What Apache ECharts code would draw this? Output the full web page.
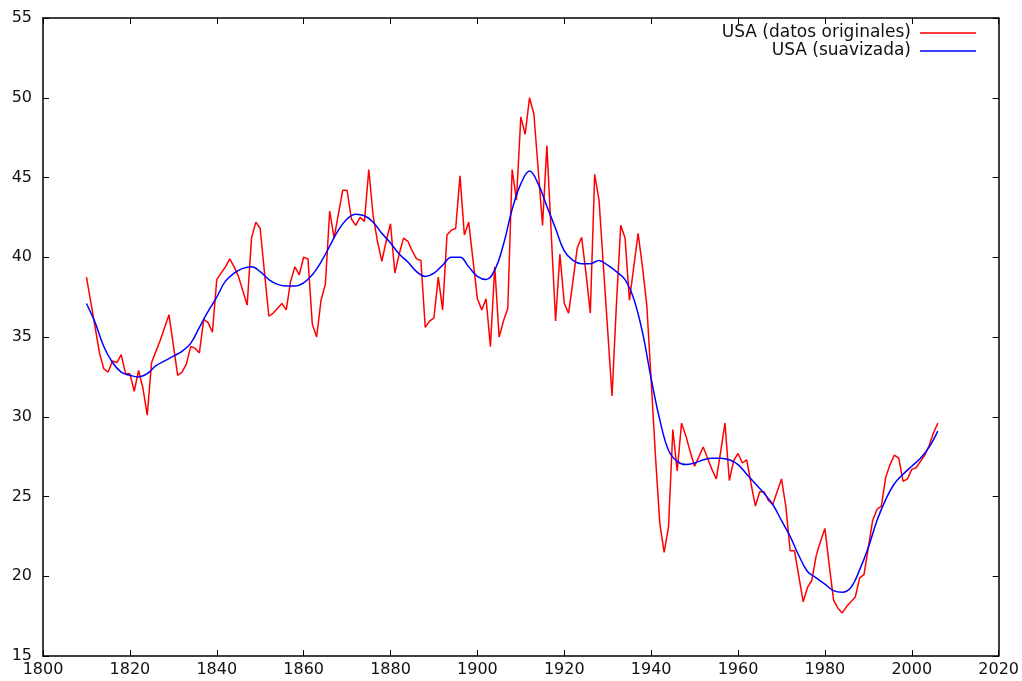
<!DOCTYPE html>
<html>
<head>
<meta charset="utf-8">
<script src="https://cdn.jsdelivr.net/npm/echarts@6/dist/echarts.min.js"></script>
<style>
  html, body { margin: 0; padding: 0; background: #fff; }
  #main { width: 1022px; height: 681px; }
</style>
</head>
<body>
<div id="main"></div>
<script>
// años de la serie original (uno por año)
var firstYear = 1810;
var rawValues = [
  38.75, 37.2, 35.6, 34.0, 33.0, 32.8, 33.5, 33.4, 33.9, 32.7,
  32.7, 31.6, 32.9, 31.8, 30.1, 33.4, 34.1, 34.8, 35.6, 36.4,
  34.5, 32.6, 32.8, 33.3, 34.4, 34.3, 34.0, 36.1, 35.9, 35.3,
  38.6, 39.0, 39.4, 39.9, 39.4, 38.8, 37.9, 37.0, 41.2, 42.2,
  41.8, 39.0, 36.3, 36.5, 36.8, 37.1, 36.7, 38.5, 39.4, 38.9,
  40.0, 39.9, 35.8, 35.0, 37.3, 38.3, 42.9, 41.2, 42.7, 44.2,
  44.2, 42.4, 42.0, 42.5, 42.25, 45.5, 42.6, 41.0, 39.75, 41.0,
  42.1, 39.0, 40.2, 41.2, 41.0, 40.4, 39.9, 39.8, 35.6, 36.0,
  36.2, 38.75, 36.7, 41.4, 41.7, 41.8, 45.1, 41.4, 42.2, 39.8,
  37.4, 36.7, 37.4, 34.4, 39.4, 35.0, 36.0, 36.8, 45.5, 43.6,
  48.8, 47.7, 50.0, 49.0, 45.5, 42.0, 47.0, 41.5, 36.0, 40.2,
  37.1, 36.5, 38.5, 40.6, 41.25, 39.0, 36.5, 45.2, 43.6, 39.5,
  35.4, 31.3, 37.0, 42.0, 41.2, 37.3, 39.4, 41.5, 39.4, 37.0,
  32.3, 27.5, 23.3, 21.5, 23.1, 29.2, 26.6, 29.6, 28.8, 27.8,
  26.9, 27.5, 28.1, 27.4, 26.7, 26.1, 27.8, 29.6, 26.0, 27.25,
  27.7, 27.1, 27.3, 25.8, 24.4, 25.3, 25.3, 24.75, 24.5, 25.3,
  26.1, 24.4, 21.6, 21.6, 20.0, 18.4, 19.3, 19.75, 21.3, 22.2,
  23.0, 20.7, 18.5, 18.0, 17.7, 18.1, 18.4, 18.7, 19.9, 20.1,
  21.8, 23.5, 24.2, 24.4, 26.2, 27.0, 27.6, 27.4, 25.95, 26.1,
  26.7, 26.8, 27.2, 27.6, 28.2, 29.0, 29.6
];

// curva suavizada, leída cada dos años
var smoothYears = [
  1810, 1812, 1814, 1816, 1818, 1820, 1822, 1824, 1826, 1828,
  1830, 1832, 1834, 1836, 1838, 1840, 1842, 1844, 1846, 1848,
  1850, 1852, 1854, 1856, 1858, 1860, 1862, 1864, 1866, 1868,
  1870, 1872, 1874, 1876, 1878, 1880, 1882, 1884, 1886, 1888,
  1890, 1892, 1894, 1896, 1898, 1900, 1902, 1904, 1906, 1908,
  1910, 1912, 1914, 1916, 1918, 1920, 1922, 1924, 1926, 1928,
  1930, 1932, 1934, 1936, 1938, 1940, 1942, 1944, 1946, 1948,
  1950, 1952, 1954, 1956, 1958, 1960, 1962, 1964, 1966, 1968,
  1970, 1972, 1974, 1976, 1978, 1980, 1982, 1984, 1986, 1988,
  1990, 1992, 1994, 1996, 1998, 2000, 2002, 2004, 2006
];
var smoothValues = [
  37.1, 35.9, 34.4, 33.4, 32.8, 32.6, 32.5, 32.7, 33.2, 33.5,
  33.8, 34.1, 34.6, 35.6, 36.6, 37.5, 38.5, 39.0, 39.3, 39.4,
  39.1, 38.6, 38.3, 38.2, 38.2, 38.4, 38.9, 39.7, 40.7, 41.7,
  42.4, 42.7, 42.6, 42.2, 41.5, 40.9, 40.2, 39.7, 39.1, 38.8,
  39.0, 39.5, 40.0, 40.0, 39.4, 38.8, 38.6, 39.2, 40.8, 43.0,
  44.6, 45.4, 44.6, 43.2, 41.8, 40.4, 39.8, 39.6, 39.6, 39.8,
  39.5, 39.1, 38.6, 37.4, 35.3, 32.4, 29.8, 27.9, 27.2, 27.0,
  27.1, 27.3, 27.4, 27.4, 27.3, 27.0, 26.4, 25.8, 25.2, 24.5,
  23.5, 22.5, 21.3, 20.3, 19.9, 19.5, 19.1, 19.0, 19.3, 20.4,
  21.8, 23.5, 24.8, 25.8, 26.4, 26.9, 27.4, 28.1, 29.1
];

var rawName = 'USA (datos originales)';
var smoothName = 'USA (suavizada)';

var rawData = rawValues.map(function (v, i) { return [firstYear + i, v]; });
var smoothData = smoothYears.map(function (y, i) { return [y, smoothValues[i]]; });

var font = 'DejaVu Sans';
var black = '#000';

function xAx(pos, labels) {
  return {
    type: 'value', position: pos, min: 1800, max: 2020, interval: 20,
    axisLine: { show: true, onZero: false, lineStyle: { color: black, width: 1.5 } },
    axisTick: { show: true, inside: true, length: 6, lineStyle: { color: black } },
    axisLabel: {
      show: labels, color: '#111', fontFamily: font, fontSize: 16, margin: 6,
      formatter: function (v) { return String(v); }
    },
    splitLine: { show: false }
  };
}
function yAx(pos, labels) {
  return {
    type: 'value', position: pos, min: 15, max: 55, interval: 5,
    axisLine: { show: true, onZero: false, lineStyle: { color: black, width: 1.5 } },
    axisTick: { show: true, inside: true, length: 6, lineStyle: { color: black } },
    axisLabel: { show: labels, color: '#111', fontFamily: font, fontSize: 16, margin: 11 },
    splitLine: { show: false }
  };
}

var myChart = echarts.init(document.getElementById('main'));
var option = {
  animation: false,
  backgroundColor: '#fff',
  grid: { left: 43, right: 23, top: 18, bottom: 25, containLabel: false },
  legend: {
    orient: 'vertical',
    right: 46,
    top: 24,
    padding: 0,
    align: 'right',
    icon: 'rect',
    itemWidth: 56,
    itemHeight: 1.5,
    itemGap: 0,
    textStyle: { color: '#111', fontFamily: font, fontSize: 17, lineHeight: 18, padding: [0, 4, 0, 0] },
    data: [rawName, smoothName]
  },
  xAxis: [xAx('bottom', true), xAx('top', false)],
  yAxis: [yAx('left', true), yAx('right', false)],
  series: [
    {
      name: rawName, type: 'line', data: rawData, symbol: 'none',
      lineStyle: { color: '#ff0000', width: 1.5 }, itemStyle: { color: '#ff0000' }
    },
    {
      name: smoothName, type: 'line', data: smoothData, symbol: 'none', smooth: 0.4,
      lineStyle: { color: '#0000ff', width: 1.5 }, itemStyle: { color: '#0000ff' }
    }
  ]
};
myChart.setOption(option);
</script>
</body>
</html>
